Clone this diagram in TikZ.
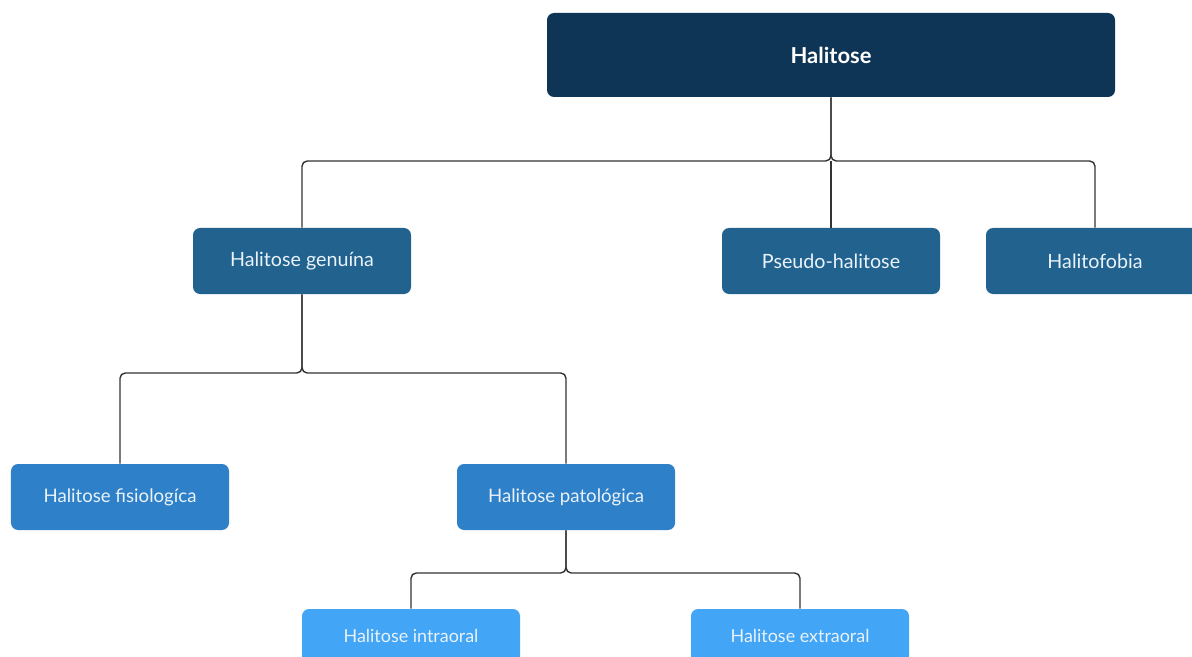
\documentclass[tikz,border=0pt]{standalone}
\usepackage{fontspec}
\setmainfont{Lato}
\usetikzlibrary{positioning, calc}
\definecolor{navy}{HTML}{0F3556}
\definecolor{steel}{HTML}{21628F}
\definecolor{azure}{HTML}{2E80C8}
\definecolor{sky}{HTML}{42A5F5}
\definecolor{wire}{HTML}{333333}
\definecolor{paper}{HTML}{EAF2FA}
\begin{document}
\begin{tikzpicture}[
    box/.style={rounded corners=4pt, minimum width=4.36cm, minimum height=1.32cm, text=paper, inner sep=0pt},
    link/.style={draw=wire, line width=0.8pt, rounded corners=3pt}
  ]
  \useasboundingbox (0,0) rectangle (23.84,-13.14);
  % Ebene 0
  \node[box, fill=navy, text=white, minimum width=11.36cm, minimum height=1.68cm, font=\fontsize{12.5}{14}\selectfont\bfseries] (halitose) at (16.62,-1.10) {Halitose};
  % Ebene 1
  \node[box, fill=steel, font=\fontsize{11.2}{13}\selectfont] (genuina) at (6.04,-5.22) {Halitose genuína};
  \node[box, fill=steel, font=\fontsize{11.2}{13}\selectfont] (pseudo) at (16.62,-5.22) {Pseudo-halitose};
  \node[box, fill=steel, font=\fontsize{11.2}{13}\selectfont] (fobia) at (21.90,-5.22) {Halitofobia};
  % Ebene 2
  \node[box, fill=azure, font=\fontsize{10.6}{12}\selectfont] (fisio) at (2.40,-9.94) {Halitose fisiologíca};
  \node[box, fill=azure, font=\fontsize{10.6}{12}\selectfont] (pato) at (11.32,-9.94) {Halitose patológica};
  % Ebene 3
  \node[box, fill=sky, minimum height=1.08cm, font=\fontsize{10.2}{12}\selectfont] (intra) at (8.22,-12.72) {Halitose intraoral};
  \node[box, fill=sky, minimum height=1.08cm, font=\fontsize{10.2}{12}\selectfont] (extra) at (16.00,-12.72) {Halitose extraoral};
  % Verzweigungen
  \coordinate (j1) at (16.62,-3.22);
  \coordinate (j2) at (6.04,-7.46);
  \coordinate (j3) at (11.32,-11.46);
  \draw[link] (halitose) -- (j1) -| (genuina);
  \draw[link] (halitose) -- (j1) -| (fobia);
  \draw[link] (j1) -- (pseudo);
  \draw[link] (genuina) -- (j2) -| (fisio);
  \draw[link] (genuina) -- (j2) -| (pato);
  \draw[link] (pato) -- (j3) -| (intra);
  \draw[link] (pato) -- (j3) -| (extra);
\end{tikzpicture}
\end{document}
